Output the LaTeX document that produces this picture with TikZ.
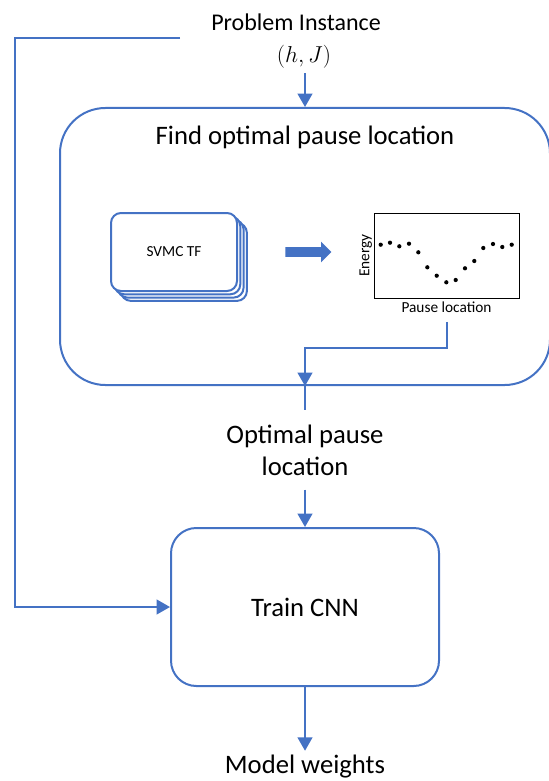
\documentclass[tikz,border=0pt]{standalone}
\usepackage{fontspec}
\setmainfont{Carlito}
\usetikzlibrary{arrows.meta,positioning,shapes.arrows}
\definecolor{flowblue}{RGB}{68,114,196}
\begin{document}
\begin{tikzpicture}[x=0.75pt,y=-0.75pt,>={Triangle[width=11pt,length=10pt]},
                    flow/.style={->,draw=flowblue,line width=1.5pt},
                    plain link/.style={draw=flowblue,line width=1.5pt},
                    big box/.style={draw=flowblue,line width=1.5pt,rounded corners=34pt,
                                    minimum width=367.5pt,minimum height=207.75pt},
                    train box/.style={draw=flowblue,line width=1.5pt,rounded corners=19pt,
                                      minimum width=201pt,minimum height=118.5pt},
                    card/.style={draw=flowblue,fill=white,line width=1.5pt,rounded corners=7.5pt,
                                 minimum width=94.5pt,minimum height=58.5pt},
                    fat arrow/.style={single arrow,fill=flowblue,inner xsep=0pt,inner ysep=3.375pt,
                                      single arrow head extend=4.125pt,minimum height=34.5pt},
                    top text/.style={font=\fontsize{18}{24}\selectfont},
                    big text/.style={font=\fontsize{20}{24}\selectfont},
                    small text/.style={font=\fontsize{11.5}{14}\selectfont}]
\clip (0,0) rectangle (549,781);
\node[top text] (prob) at (296,22) {Problem Instance};
\node[top text] (hj) at (304,57) {$(h,J)$};
\node[big box] (findbox) at (305,246.5) {};
\node[big text,below=11pt of findbox.north] (findlbl) {Find optimal pause location};

% stacked transfer function runs
\foreach \k in {3,2,1}
  \node[card] at ({174+\k*3.3},{252+\k*3.3}) {};
\node[card,small text] (card) at (174,252) {SVMC TF};
\node[fat arrow] (fat) at (306,252) {};

% energy vs pause location
\node[draw=black,line width=0.75pt,minimum width=108.75pt,minimum height=63.75pt] (plot) at (446.5,255.5) {};
\node[small text,rotate=90,anchor=south,inner sep=1pt] (ylabel) at (plot.west) {Energy};
\node[small text,anchor=north,inner sep=2pt] (xlabel) at (plot.south) {Pause location};
\foreach \px/\py in {380.7/244.7,390/242.7,399.3/246.3,409/243.7,418.3/252.3,427.3/267.3,
                     436.7/275.7,446.3/282.3,455.7/280,465/268.3,474.3/261,483.3/248,
                     493/244,502.3/247,511.7/244.7}
  \fill (\px,\py) circle (1.6pt);

\node[big text,align=center,inner ysep=10.5pt] (optimal) at (305,450) {Optimal pause\\location};
\node[train box,big text] (train) at (305,607) {Train CNN};
\node[big text] (model) at (305,767) {Model weights};
\coordinate (fbstart) at (180,38);
\coordinate (fbcorner) at (15,38);

\draw[flow] (findbox.north |- hj.south) -- (findbox.north);
\draw[flow] ([yshift=-5pt]xlabel.south) |- ([yshift=28.5pt]findbox.south) -- (findbox.south);
\draw[plain link] (findbox.south) -- (optimal.north);
\draw[flow] (optimal.south) -- (train.north);
\draw[flow] (train.south) -- (model.north);
\draw[flow] (fbstart) -- (fbcorner) |- (train.west);
\end{tikzpicture}
\end{document}
